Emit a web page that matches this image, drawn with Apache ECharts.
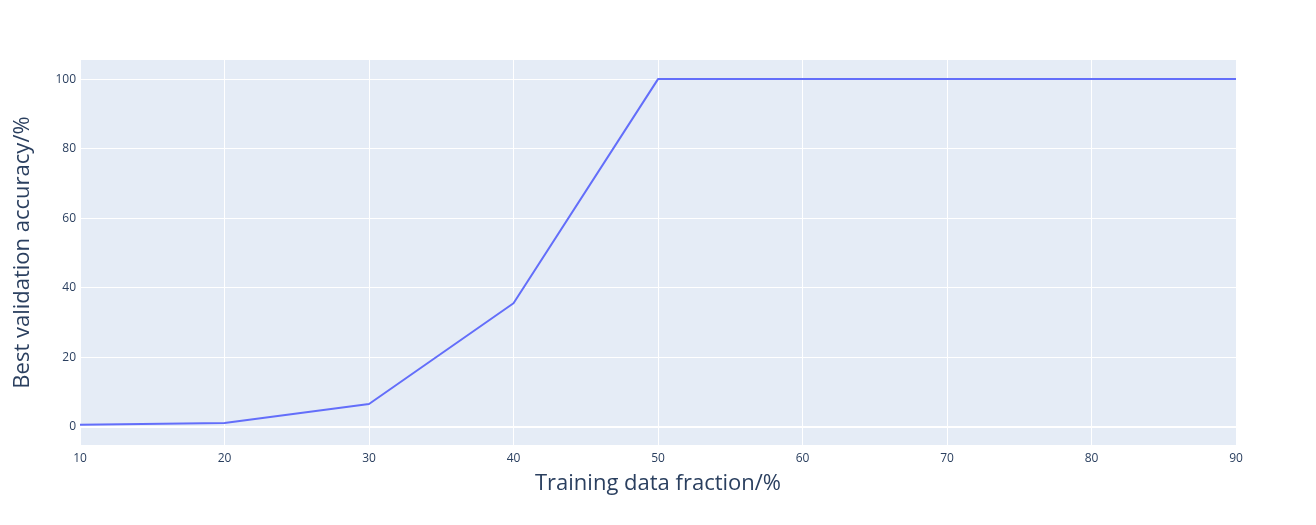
<!DOCTYPE html>
<html>
<head>
<meta charset="utf-8">
<script src="https://cdn.jsdelivr.net/npm/echarts@6/dist/echarts.min.js"></script>
<style>
  html, body { margin: 0; padding: 0; background: #fff; }
  #chart { width: 1316px; height: 525px; }
</style>
</head>
<body>
<div id="chart"></div>
<script>
// data
const fractions = [10, 20, 30, 40, 50, 60, 70, 80, 90];
const accuracy = [0.5, 1.0, 6.5, 35.5, 100, 100, 100, 100, 100];
const yTicks = [0, 20, 40, 60, 80, 100];
const xTicks = [10, 20, 30, 40, 50, 60, 70, 80, 90];

const font = "'Open Sans', 'Noto Sans', sans-serif";
const textColor = "#2a3f5f";

const chart = echarts.init(document.getElementById("chart"));
chart.setOption({
  animation: false,
  grid: {
    left: 80, right: 80, top: 60, bottom: 80,
    outerBoundsMode: "none",
    show: true, backgroundColor: "#e5ecf6", borderWidth: 0
  },
  xAxis: {
    type: "value",
    min: 10, max: 90, interval: 10,
    name: "Training data fraction/%",
    nameLocation: "middle",
    nameGap: 28,
    nameTextStyle: { fontFamily: font, fontSize: 22, color: textColor },
    axisLine: { show: false },
    axisTick: { show: false },
    axisLabel: { fontFamily: font, fontSize: 12, color: textColor, margin: 8, customValues: xTicks },
    splitLine: { show: true, lineStyle: { color: "#fff", width: 1 } }
  },
  yAxis: {
    type: "value",
    min: -5.3, max: 105.5,
    name: "Best validation accuracy/%",
    nameLocation: "middle",
    nameGap: 46,
    nameTextStyle: { fontFamily: font, fontSize: 22, color: textColor },
    axisLine: { show: false },
    axisTick: { show: false, customValues: yTicks },
    axisLabel: { fontFamily: font, fontSize: 12, color: textColor, margin: 4, customValues: yTicks },
    splitLine: { show: true, lineStyle: { color: "#fff", width: 1 } }
  },
  series: [{
    type: "line",
    data: fractions.map((x, i) => [x, accuracy[i]]),
    symbol: "none",
    lineStyle: { color: "#636efa", width: 2 },
    markLine: {
      silent: true,
      symbol: "none",
      label: { show: false },
      lineStyle: { color: "#fff", width: 2, type: "solid" },
      data: [{ yAxis: 0 }]
    },
    z: 3
  }]
});
</script>
</body>
</html>
